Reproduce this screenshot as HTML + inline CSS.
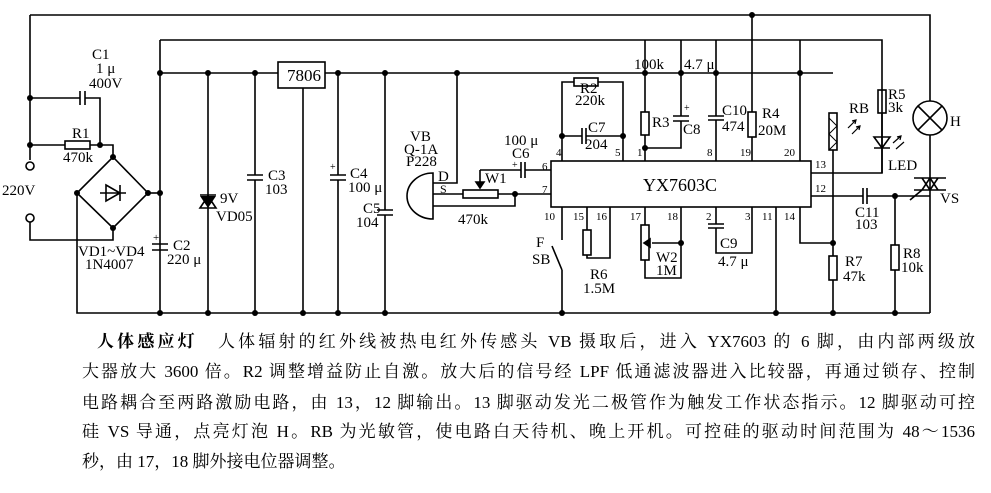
<!DOCTYPE html>
<html><head><meta charset="utf-8"><style>
body{margin:0;background:#fff;width:991px;height:493px;overflow:hidden;position:relative}
svg{position:absolute;left:0;top:0}
.t{position:absolute;font-family:"Liberation Serif","Noto Serif CJK SC","Noto Sans CJK SC",serif;font-size:17px;line-height:20px;color:#000;text-align:justify;text-align-last:justify;white-space:nowrap}
</style></head><body>
<svg width="991" height="320" viewBox="0 0 991 320" font-family="Liberation Serif, serif" font-size="15" fill="none" stroke="#000" stroke-width="1.6">
<g>
<path d="M30 15H930V313"/>
<path d="M160 40H882V173"/>
<path d="M752 15V112M752 137V161"/>
<path d="M30 15V160"/>
<path d="M30 98H80M85 98H100V145"/>
<path d="M80 91V105M85 91V105"/>
<path d="M30 145H65M90 145H113V157"/>
<rect x="65" y="141" width="25" height="8"/>
<circle cx="30" cy="166" r="4"/>
<circle cx="30" cy="218" r="4"/>
<path d="M30 222V240H113V228"/>
<path d="M113 157L148 193L113 228L77 193Z"/>
<path d="M77 193V313H930"/>
<path d="M148 193H160"/>
<path d="M100 193H126M106 185V201M106 185L120 193L106 201Z"/>
<path d="M120 185V201"/>
<path d="M160 40V313"/>
<path d="M160 73H278M325 73H833"/>
<path d="M152 244H168M152 250H168"/>
<rect x="278" y="62" width="47" height="26"/>
<path d="M303 88V313"/>
<path d="M208 73V313"/>
<path d="M200 195H216M200 208L208 196L216 208Z"/>
<path d="M247 175H263M247 180H263"/>
<path d="M330 175H346M330 180H346"/>
<path d="M255 73V175M255 180V313M338 73V175M338 180V313"/>
<path d="M377 210H393M377 215H393"/>
<path d="M385 73V210M385 215V313"/>
<path d="M457 73V183H433"/>
<path d="M433 173V219A26 23 0 0 1 433 173Z"/>
<path d="M433 194H463M498 194H515M433 206H515V194H551"/>
<rect x="463" y="190" width="35" height="8"/>
<path d="M480 170V186M476 182L480 188L484 182Z" fill="#000"/>
<path d="M480 170H521M525 170H551M521 162V178M525 162V178"/>
<rect x="551" y="161" width="260" height="46"/>
<path d="M562 161V82H574M598 82H623V161M562 136H582M586 136H623"/>
<rect x="574" y="78" width="24" height="8"/>
<path d="M582 128V144M586 128V144"/>
<path d="M645 40V112M645 135V161M645 148H681V121M681 116V40"/>
<rect x="641" y="112" width="8" height="23"/>
<path d="M673 116H689M673 121H689"/>
<path d="M716 40V116M716 120V161M708 116H724M708 120H724"/>
<rect x="748" y="112" width="8" height="25"/>
<path d="M800 40V161"/>
<rect x="829" y="113" width="8" height="37"/>
<path d="M833 150V242M811 173H882V113"/>
<rect x="878" y="90" width="8" height="23"/>
<path d="M811 196H863M867 196H930M863 188V204M867 188V204"/>
<path d="M800 207V243H833V256M833 280V313"/>
<rect x="829" y="256" width="8" height="24"/>
<path d="M895 196V245M895 270V313"/>
<rect x="891" y="245" width="8" height="25"/>
<path d="M776 207V313M752 207V253H716V228M716 224V207M708 224H724M708 228H724"/>
<path d="M562 207V240M562 270V313M562 270L552 246"/>
<path d="M587 207V230M587 255V258H610V207"/>
<rect x="583" y="230" width="8" height="25"/>
<path d="M645 207V225M645 260V278H681V207M681 243H652"/>
<rect x="641" y="225" width="8" height="35"/>
<path d="M650 239L644 243L650 247Z" fill="#000"/>
<circle cx="930" cy="118" r="17" fill="#fff"/>
<path d="M918 106L942 130M942 106L918 130"/>
<path d="M874 137H890L882 148ZM874 148H890"/>
<path d="M914 178H946M914 190H946M922 178L930 190L938 178M922 190L930 178L938 190M910 200L922 190"/>
<path d="M829 118L837 126L829 134L837 142L829 150" stroke-width="1"/>
</g>
<g fill="#000" stroke="none">
<circle cx="30" cy="98" r="3"/><circle cx="30" cy="145" r="3"/><circle cx="100" cy="145" r="3"/>
<circle cx="113" cy="157" r="3"/><circle cx="77" cy="193" r="3"/><circle cx="148" cy="193" r="3"/><circle cx="113" cy="228" r="3"/>
<circle cx="160" cy="73" r="3"/><circle cx="160" cy="193" r="3"/><circle cx="160" cy="313" r="3"/>
<circle cx="208" cy="73" r="3"/><circle cx="208" cy="313" r="3"/><circle cx="255" cy="73" r="3"/><circle cx="255" cy="313" r="3"/>
<circle cx="303" cy="313" r="3"/><circle cx="338" cy="73" r="3"/><circle cx="338" cy="313" r="3"/><circle cx="385" cy="73" r="3"/><circle cx="385" cy="313" r="3"/><circle cx="457" cy="73" r="3"/>
<circle cx="515" cy="194" r="3"/><circle cx="562" cy="136" r="3"/><circle cx="623" cy="136" r="3"/><circle cx="645" cy="148" r="3"/>
<circle cx="645" cy="73" r="3"/><circle cx="681" cy="73" r="3"/><circle cx="716" cy="73" r="3"/><circle cx="800" cy="73" r="3"/><circle cx="752" cy="15" r="3"/>
<circle cx="681" cy="243" r="3"/><circle cx="833" cy="243" r="3"/><circle cx="895" cy="196" r="3"/>
<circle cx="562" cy="313" r="3"/><circle cx="776" cy="313" r="3"/><circle cx="833" cy="313" r="3"/><circle cx="895" cy="313" r="3"/>
<path d="M200 196H216L208 208Z"/>
<text x="92" y="59">C1</text><text x="96" y="73">1 μ</text><text x="89" y="88">400V</text>
<text x="72" y="138">R1</text><text x="63" y="162">470k</text><text x="2" y="195">220V</text>
<text x="78" y="256">VD1~VD4</text><text x="85" y="269">1N4007</text>
<text x="173" y="250">C2</text><text x="167" y="264">220 μ</text><text x="153" y="241" font-size="11">+</text>
<text x="220" y="203">9V</text><text x="216" y="221">VD05</text>
<text x="268" y="180">C3</text><text x="265" y="194">103</text>
<text x="287" y="81" font-size="17">7806</text>
<text x="350" y="178">C4</text><text x="348" y="192">100 μ</text><text x="330" y="170" font-size="10">+</text>
<text x="363" y="213">C5</text><text x="356" y="227">104</text>
<text x="410" y="141">VB</text><text x="404" y="154">Q-1A</text><text x="406" y="166">P228</text>
<text x="438" y="181">D</text><text x="440" y="193" font-size="12">S</text>
<text x="458" y="224">470k</text><text x="485" y="183">W1</text>
<text x="504" y="145">100 μ</text><text x="512" y="158">C6</text><text x="512" y="168" font-size="10">+</text>
<text x="542" y="170" font-size="11">6</text><text x="542" y="193" font-size="11">7</text>
<text x="556" y="156" font-size="11">4</text><text x="615" y="156" font-size="11">5</text><text x="637" y="156" font-size="11">1</text>
<text x="707" y="156" font-size="11">8</text><text x="740" y="156" font-size="11">19</text><text x="784" y="156" font-size="11">20</text>
<text x="815" y="168" font-size="11">13</text><text x="815" y="192" font-size="11">12</text>
<text x="544" y="220" font-size="11">10</text><text x="573" y="220" font-size="11">15</text><text x="596" y="220" font-size="11">16</text>
<text x="630" y="220" font-size="11">17</text><text x="667" y="220" font-size="11">18</text><text x="706" y="220" font-size="11">2</text>
<text x="745" y="220" font-size="11">3</text><text x="762" y="220" font-size="11">11</text><text x="784" y="220" font-size="11">14</text>
<text x="643" y="191" font-size="18">YX7603C</text>
<text x="580" y="93">R2</text><text x="575" y="105">220k</text>
<text x="588" y="132">C7</text><text x="585" y="149">204</text>
<text x="652" y="127">R3</text><text x="683" y="134">C8</text><text x="684" y="111" font-size="10">+</text>
<text x="634" y="69">100k</text><text x="684" y="69">4.7 μ</text>
<text x="722" y="115">C10</text><text x="722" y="131">474</text>
<text x="762" y="118">R4</text><text x="758" y="135">20M</text>
<text x="849" y="113">RB</text><text x="888" y="99">R5</text><text x="888" y="112">3k</text>
<text x="950" y="126">H</text><text x="888" y="170">LED</text><text x="940" y="203">VS</text>
<text x="855" y="217">C11</text><text x="855" y="229">103</text>
<text x="903" y="258">R8</text><text x="901" y="272">10k</text>
<text x="845" y="266">R7</text><text x="843" y="281">47k</text>
<text x="536" y="247">F</text><text x="532" y="264">SB</text>
<text x="590" y="279">R6</text><text x="583" y="293">1.5M</text>
<text x="656" y="262">W2</text><text x="656" y="275">1M</text>
<text x="720" y="248">C9</text><text x="718" y="266">4.7 μ</text>
</g>
<path d="M848 128L856 120M855 124L856 120L852 121M852 134L860 126M859 130L860 126L856 127M893 143L901 136M900 140L901 136L897 137M896 149L904 142" stroke="#000" stroke-width="1.2" fill="none"/>
</svg>
<div class="t" style="left:97px;top:332px;width:878px"><b>人体感应灯</b>　人体辐射的红外线被热电红外传感头 VB 摄取后，进入 YX7603 的 6 脚，由内部两级放</div>
<div class="t" style="left:82px;top:362px;width:893px">大器放大 3600 倍。R2 调整增益防止自激。放大后的信号经 LPF 低通滤波器进入比较器，再通过锁存、控制</div>
<div class="t" style="left:82px;top:393px;width:893px">电路耦合至两路激励电路，由 13，12 脚输出。13 脚驱动发光二极管作为触发工作状态指示。12 脚驱动可控</div>
<div class="t" style="left:82px;top:422px;width:893px">硅 VS 导通，点亮灯泡 H。RB 为光敏管，使电路白天待机、晚上开机。可控硅的驱动时间范围为 48～1536</div>
<div class="t" style="left:82px;top:452px;width:250px;text-align-last:left">秒，由 17，18 脚外接电位器调整。</div>
</body></html>
